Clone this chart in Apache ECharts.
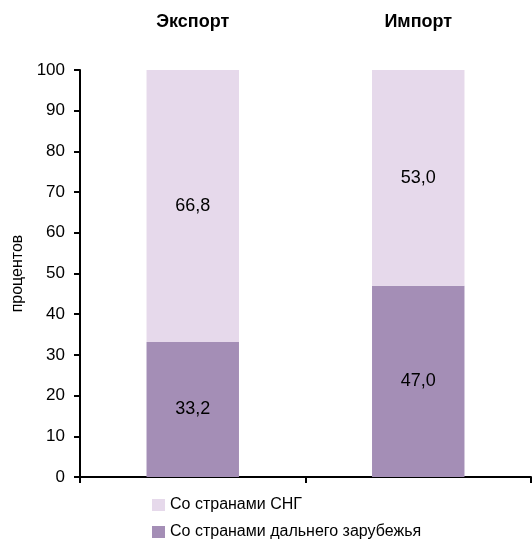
<!DOCTYPE html>
<html>
<head>
<meta charset="utf-8">
<script src="https://cdn.jsdelivr.net/npm/echarts@6/dist/echarts.min.js"></script>
<style>
  html, body { margin: 0; padding: 0; background: #fff; }
  #chart { width: 532px; height: 540px; }
</style>
</head>
<body>
<div id="chart"></div>
<script>
const categories = ['Экспорт', 'Импорт']
const cisValues = [66.8, 53.0]
const farValues = [33.2, 47.0]
const seriesNames = ['Со странами СНГ', 'Со странами дальнего зарубежья']
const yTicks = [0, 10, 20, 30, 40, 50, 60, 70, 80, 90, 100]

const font = 'Arial, "Liberation Sans", sans-serif'
const fmt = (p) => p.value.toFixed(1).replace('.', ',')

// one legend per row so the two items stack like the original
const legendRow = (name, top) => ({
  orient: 'vertical',
  left: 152,
  top: top,
  padding: 0,
  itemWidth: 13,
  itemHeight: 12,
  itemGap: 0,
  icon: 'rect',
  data: [name],
  textStyle: { fontSize: 16, color: '#000', fontFamily: font }
})

const chart = echarts.init(document.getElementById('chart'), null, { renderer: 'canvas' })
chart.setOption({
  animation: false,
  textStyle: { fontFamily: font },
  grid: { left: 80, right: 1, top: 70, bottom: 63 },
  legend: [legendRow(seriesNames[0], 497), legendRow(seriesNames[1], 524)],
  xAxis: [
    {
      type: 'category',
      data: categories,
      position: 'bottom',
      axisLine: { lineStyle: { color: '#000', width: 2 } },
      axisTick: { show: true, length: 6, lineStyle: { color: '#000', width: 2 } },
      axisLabel: { show: false }
    },
    {
      type: 'category',
      data: categories,
      position: 'top',
      axisLine: { show: false },
      axisTick: { show: false },
      axisLabel: { margin: 39, fontSize: 18, fontWeight: 'bold', color: '#000', fontFamily: font }
    }
  ],
  yAxis: {
    type: 'value',
    min: yTicks[0],
    max: yTicks[yTicks.length - 1],
    interval: 10,
    name: 'процентов',
    nameLocation: 'middle',
    nameGap: 53,
    nameTextStyle: { fontSize: 16, color: '#000', fontFamily: font },
    axisLine: { show: true, lineStyle: { color: '#000', width: 2 } },
    axisTick: { show: true, length: 6, lineStyle: { color: '#000', width: 2 } },
    axisLabel: { margin: 15, fontSize: 17, color: '#000', fontFamily: font },
    splitLine: { show: false }
  },
  series: [
    {
      name: seriesNames[1],
      type: 'bar',
      stack: 'total',
      barWidth: '41%',
      data: farValues,
      itemStyle: { color: '#A48EB6' },
      label: { show: true, position: 'inside', formatter: fmt, fontSize: 18, color: '#000', fontFamily: font }
    },
    {
      name: seriesNames[0],
      type: 'bar',
      stack: 'total',
      barWidth: '41%',
      data: cisValues,
      itemStyle: { color: '#E6D9EB' },
      label: { show: true, position: 'inside', formatter: fmt, fontSize: 18, color: '#000', fontFamily: font }
    }
  ]
})
</script>
</body>
</html>
